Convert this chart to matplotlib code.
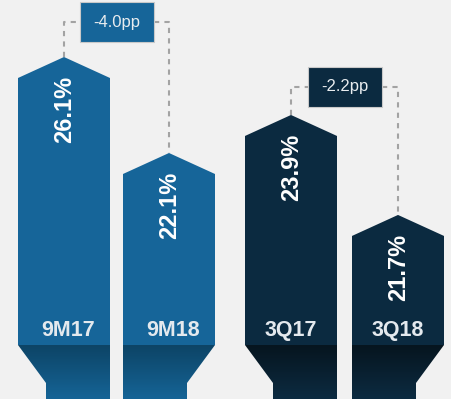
import numpy as np
import matplotlib
matplotlib.use("Agg")
import matplotlib.pyplot as plt
from matplotlib.patches import Polygon, Rectangle
from matplotlib.colors import LinearSegmentedColormap
from matplotlib import transforms

# Margin data
categories_9m = ["9M17", "9M18"]
values_9m = [26.1, 22.1]
categories_q = ["3Q17", "3Q18"]
values_q = [23.9, 21.7]

W, H, DPI = 451, 399, 100
fig = plt.figure(figsize=(W / DPI, H / DPI), dpi=DPI)
fig.patch.set_facecolor("#f1f1f1")

plt.rcParams["font.family"] = ["Liberation Sans", "DejaVu Sans"]


def draw_group(ax, cats, vals, color, grad_top, grad_bot, box_face,
               xlim, ylim, box_frac, ax_w_px, label_dx):
    ax.set_axis_off()
    ax.set_facecolor("none")
    y0, y1 = ylim
    yr = y1 - y0
    upp_y = yr / H                         # data units per pixel (y)
    upp_x = (xlim[1] - xlim[0]) / ax_w_px  # data units per pixel (x)

    width = 92 * upp_x
    half = width / 2
    tip = 21 * upp_y
    band_y = y0 + (H - 345) * upp_y
    neck_y = y0 + (H - 383) * upp_y
    inset = 28 * upp_x
    cmap = LinearSegmentedColormap.from_list("shade", [grad_bot, grad_top])

    for i, (cat, v) in enumerate(zip(cats, vals)):
        body = Polygon([(i - half, band_y), (i - half, v - tip), (i, v),
                        (i + half, v - tip), (i + half, band_y)],
                       closed=True, facecolor=color, edgecolor="none", zorder=2)
        ax.add_patch(body)

        # shaded foot of the column, tapering towards the pair's outer side
        if i == 0:
            pts = [(i - half, band_y), (i + half, band_y), (i + half, y0),
                   (i - half + inset, y0), (i - half + inset, neck_y)]
        else:
            pts = [(i - half, band_y), (i + half, band_y),
                   (i + half - inset, neck_y), (i + half - inset, y0),
                   (i - half, y0)]
        foot = Polygon(pts, closed=True, facecolor="none", edgecolor="none")
        ax.add_patch(foot)
        grad = np.linspace(0, 1, 64).reshape(-1, 1)
        im = ax.imshow(grad, extent=[i - half, i + half, y0, band_y],
                       origin="lower", aspect="auto", cmap=cmap, zorder=2)
        im.set_clip_path(foot)

        # value label, rotated, just below the tip
        off = transforms.offset_copy(ax.transData, fig=fig, x=1, y=-52,
                                     units="dots")
        ax.text(i, v, f"{v:.1f}%", transform=off, rotation=90,
                ha="center", va="center", color="white", fontsize=17,
                fontweight="bold", zorder=4)
        # category label in the lower band
        ax.text(i + label_dx * upp_x, y0 + (H - 331) * upp_y, cat,
                ha="center", va="center", color="#e4e9ee", fontsize=15.5,
                fontweight="bold", zorder=4)

    # change bracket
    yb = y0 + box_frac * yr
    bw = 74 * upp_x
    bh = 40 * upp_y
    dash = dict(color="#a3a3a3", lw=1.5, linestyle=(0, (2.5, 2.5)), zorder=1)
    ax.plot([0, 0, 0.5 - bw / 2], [vals[0], yb, yb], **dash)
    ax.plot([0.5 + bw / 2, 1, 1], [yb, yb, vals[1]], **dash)
    ax.add_patch(Rectangle((0.5 - bw / 2, yb - bh / 2), bw, bh,
                           facecolor=box_face, edgecolor="#c9c9c9", lw=0.8,
                           zorder=3))
    diff = vals[1] - vals[0]
    ax.text(0.5, yb, f"{diff:.1f}pp", ha="center", va="center",
            color="#e8ecef", fontsize=12, zorder=4)

    ax.set_xlim(xlim)
    ax.set_ylim(ylim)


split = 230
ax1 = fig.add_axes([0, 0, split / W, 1])
ax2 = fig.add_axes([split / W, 0, (W - split) / W, 1])

draw_group(ax1, categories_9m, values_9m, "#166599", "#0d4466", "#156496",
           "#166599", xlim=(-64 / 105, (split - 64) / 105),
           ylim=(11.85, 28.475), box_frac=(H - 22) / H, ax_w_px=split,
           label_dx=4)
draw_group(ax2, categories_q, values_q, "#0b2a40", "#06151f", "#0c2b41",
           "#0b2a40", xlim=(-(291 - split) / 107, (W - 291) / 107),
           ylim=(17.65, 26.43), box_frac=(H - 87) / H, ax_w_px=W - split,
           label_dx=0)

fig.savefig("out.png", dpi=DPI, facecolor=fig.get_facecolor())
